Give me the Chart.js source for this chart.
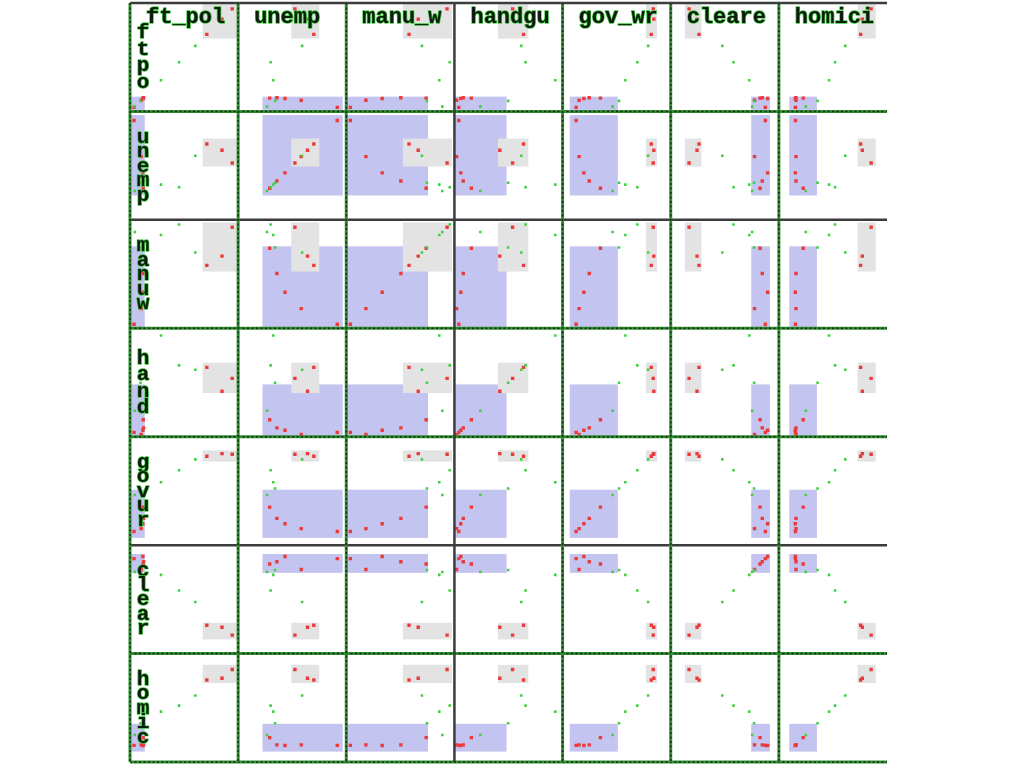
<!DOCTYPE html>
<html>
<head>
<meta charset="utf-8">
<script src="https://cdn.jsdelivr.net/npm/chart.js@4.4.1/dist/chart.umd.min.js"></script>
<style>
  html, body { margin: 0; padding: 0; background: #fff; }
  canvas { display: block; }
</style>
</head>
<body>
<canvas id="splom" width="1024" height="768"></canvas>
<script>
// one observation per year, 1961-1973
const years = [1961, 1962, 1963, 1964, 1965, 1966, 1967, 1968, 1969, 1970, 1971, 1972, 1973];
const ftPol = [260.35, 269.80, 272.04, 272.96, 272.51, 261.34, 268.89, 295.99, 319.87, 341.43, 356.59, 376.69, 390.19];
const unemp = [11.0, 7.0, 5.2, 4.3, 3.5, 3.2, 4.1, 3.9, 3.6, 7.1, 8.4, 7.7, 6.3];
const manuW = [455.5, 480.2, 506.1, 535.8, 576.0, 601.7, 577.3, 596.9, 613.5, 569.3, 548.8, 563.4, 609.3];
const handgu = [178.15, 156.41, 198.02, 222.10, 301.92, 391.22, 665.56, 1131.21, 837.60, 794.90, 817.74, 583.17, 709.59];
const govWr = [133.9, 137.6, 143.6, 150.3, 164.3, 179.5, 187.5, 195.4, 210.3, 223.8, 227.7, 230.9, 230.2];
const cleare = [93.4, 88.5, 94.4, 92.0, 91.0, 87.4, 88.3, 86.1, 79.0, 73.9, 63.4, 62.5, 58.9];
const homici = [8.60, 8.90, 8.52, 8.89, 13.07, 14.57, 21.36, 28.03, 31.49, 37.39, 46.26, 47.24, 52.33];

const varNames = [`ft_pol`, `unemp`, `manu_w`, `handgu`, `gov_wr`, `cleare`, `homici`];
const rowLabels = [`ftpo`, `unemp`, `manuw`, `hand`, `govur`, `clear`, `homic`];

// axis range of each variable
const axisMin = [255, 0, 449, 135, 117, 50.6, -1];
const axisMax = [398, 12, 621, 1203, 252, 99.5, 61.5];

// the two brushes, one range per variable
const blueLo = [250, 2.7, 440, 120, 126, 87, 5];
const blueHi = [274.5, 11.6, 579, 650, 186, 95.5, 21];
const grayLo = [351, 5.9, 539, 565, 221, 57, 44.5];
const grayHi = [398, 9.0, 617, 865, 235, 64.5, 55];

const columns = [ftPol, unemp, manuW, handgu, govWr, cleare, homici];
const N = varNames.length;

const RED = `#ec3a3a`;
const GREEN = `#3fcf3f`;
const BLUE_BOX = `#c4c4f0`;
const GRAY_BOX = `#e3e3e3`;

const inBrush = (k, lo, hi) => columns.every((col, v) => col[k] >= lo[v] && col[k] <= hi[v]);
const selected = years.map((yr, k) => inBrush(k, blueLo, blueHi) || inBrush(k, grayLo, grayHi));

const datasets = [];
for (let i = 0; i < N; i++) {
  for (let j = 0; j < N; j++) {
    const pts = years.map((yr, k) => ({x: columns[j][k], y: columns[i][k], sel: selected[k]}));
    datasets.push({
      data: pts.filter((p) => !p.sel),
      xAxisID: `x${j}`, yAxisID: `y${i}`,
      backgroundColor: GREEN, borderWidth: 0,
      pointStyle: `rect`, pointRadius: 1.8, pointHoverRadius: 1.8
    });
    datasets.push({
      data: pts.filter((p) => p.sel),
      xAxisID: `x${j}`, yAxisID: `y${i}`,
      backgroundColor: RED, borderWidth: 0,
      pointStyle: `rect`, pointRadius: 2.4, pointHoverRadius: 2.4
    });
  }
}

const scales = {};
varNames.forEach((name, j) => {
  scales[`x${j}`] = {type: `linear`, position: `bottom`, stack: `cols`, min: axisMin[j], max: axisMax[j], display: false};
});
varNames.forEach((name, i) => {
  scales[`y${i}`] = {type: `linear`, position: `right`, stack: `rows`, min: axisMin[i], max: axisMax[i], display: false};
});

const brushBoxes = {
  id: `brushBoxes`,
  beforeDatasetsDraw(chart) {
    const ctx = chart.ctx;
    for (let i = 0; i < N; i++) {
      for (let j = 0; j < N; j++) {
        const xs = chart.scales[`x${j}`];
        const ys = chart.scales[`y${i}`];
        ctx.save();
        ctx.beginPath();
        ctx.rect(xs.left, ys.top, xs.right - xs.left, ys.bottom - ys.top);
        ctx.clip();
        [[blueLo, blueHi, BLUE_BOX], [grayLo, grayHi, GRAY_BOX]].forEach(([lo, hi, color]) => {
          const x1 = xs.getPixelForValue(lo[j]);
          const x2 = xs.getPixelForValue(hi[j]);
          const y1 = ys.getPixelForValue(hi[i]);
          const y2 = ys.getPixelForValue(lo[i]);
          ctx.fillStyle = color;
          ctx.fillRect(x1, y1, x2 - x1, y2 - y1);
        });
        ctx.restore();
      }
    }
  }
};

// cell borders: `g` green dotted, `k` dark
const vLines = [`g`, `g`, `g`, `k`, `g`, `g`, `g`, ``];
const hLines = [`k`, `g`, `k`, `g`, `g`, `k`, `g`, `g`];

function strokeLine(ctx, x1, y1, x2, y2, kind) {
  ctx.save();
  ctx.beginPath();
  ctx.moveTo(x1, y1);
  ctx.lineTo(x2, y2);
  if (kind === `k`) {
    ctx.strokeStyle = `#3c3c3c`;
    ctx.lineWidth = 2.5;
    ctx.stroke();
  } else {
    ctx.strokeStyle = `#2f8f2f`;
    ctx.lineWidth = 3;
    ctx.stroke();
    ctx.setLineDash([2, 2.5]);
    ctx.strokeStyle = `#142814`;
    ctx.lineWidth = 1.5;
    ctx.stroke();
  }
  ctx.restore();
}

function haloText(ctx, text, x, y) {
  ctx.lineJoin = `round`;
  ctx.strokeStyle = `#3cc83c`;
  ctx.lineWidth = 1.4;
  ctx.strokeText(text, x, y);
  ctx.fillStyle = `#0d1d0d`;
  ctx.fillText(text, x, y);
}

const frameAndLabels = {
  id: `frameAndLabels`,
  afterDatasetsDraw(chart) {
    const ctx = chart.ctx;
    const xEdges = [];
    const yEdges = [];
    for (let k = 0; k < N; k++) {
      xEdges.push(chart.scales[`x${k}`].left);
      yEdges.push(chart.scales[`y${k}`].top);
    }
    xEdges.push(chart.scales[`x${N - 1}`].right);
    yEdges.push(chart.scales[`y${N - 1}`].bottom);

    hLines.forEach((kind, k) => {
      if (kind) strokeLine(ctx, xEdges[0], yEdges[k], xEdges[N], yEdges[k], kind);
    });
    vLines.forEach((kind, k) => {
      if (kind) strokeLine(ctx, xEdges[k], yEdges[0], xEdges[k], yEdges[N], kind);
    });

    ctx.save();
    ctx.textBaseline = `alphabetic`;
    ctx.font = `bold 22px "Liberation Mono", "DejaVu Sans Mono", monospace`;
    ctx.textAlign = `left`;
    varNames.forEach((name, j) => {
      haloText(ctx, name, xEdges[j] + 16, yEdges[0] + 20);
    });

    ctx.font = `bold 21px "Liberation Mono", "DejaVu Sans Mono", monospace`;
    ctx.textAlign = `center`;
    rowLabels.forEach((label, i) => {
      const letters = label.split(``);
      const step = letters.length === 4 ? 16.5 : 14.5;
      const mid = (yEdges[i] + yEdges[i + 1]) / 2;
      letters.forEach((ch, k) => {
        const y = mid + (k - (letters.length - 1) / 2) * step + 6;
        haloText(ctx, ch, xEdges[0] + 13, y);
      });
    });
    ctx.restore();
  }
};

new Chart(document.getElementById(`splom`), {
  type: `scatter`,
  data: {datasets},
  options: {
    responsive: false,
    animation: false,
    devicePixelRatio: 1,
    layout: {padding: {left: 130, right: 137, top: 3, bottom: 6}},
    scales,
    plugins: {
      legend: {display: false},
      tooltip: {enabled: false}
    }
  },
  plugins: [brushBoxes, frameAndLabels]
});
</script>
</body>
</html>
